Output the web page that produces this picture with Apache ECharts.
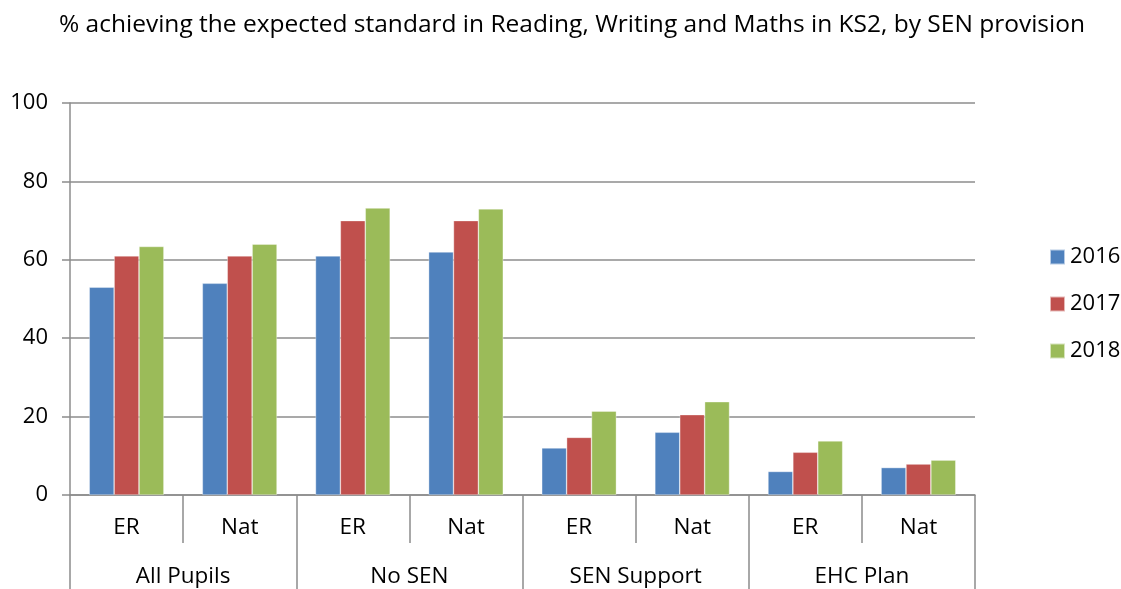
<!DOCTYPE html>
<html>
<head>
<meta charset="utf-8">
<script src="https://cdn.jsdelivr.net/npm/echarts@6/dist/echarts.min.js"></script>
<style>
  html, body { margin: 0; padding: 0; background: #fff; }
  #chart { width: 1121px; height: 589px; }
</style>
</head>
<body>
<div id="chart"></div>
<script>
// data
const subCategories = ["ER", "Nat", "ER", "Nat", "ER", "Nat", "ER", "Nat"];
const groups = ["All Pupils", "No SEN", "SEN Support", "EHC Plan"];
const years = ["2016", "2017", "2018"];
const values2016 = [53, 54, 61, 62, 12, 16, 6, 7];
const values2017 = [61, 61, 70, 70, 14.7, 20.5, 10.9, 7.9];
const values2018 = [63.4, 64, 73.2, 73, 21.4, 23.8, 13.8, 8.9];
const yTicks = [0, 20, 40, 60, 80, 100];

const colors = ["#4F81BD", "#C0504D", "#9BBB59"];
const font = "'Open Sans', Lato, sans-serif";
const gridGray = "#8c8c8c";

const chart = echarts.init(document.getElementById("chart"));

const seriesValues = [values2016, values2017, values2018];

chart.setOption({
  animation: false,
  color: colors,
  textStyle: { fontFamily: font, color: "#000" },
  title: {
    text: "% achieving the expected standard in Reading, Writing and Maths in KS2, by SEN provision",
    left: 567,
    textAlign: "center",
    top: 8,
    textStyle: { fontFamily: font, fontSize: 24.5, fontWeight: "normal", color: "#000" }
  },
  legend: {
    orient: "vertical",
    left: 1044,
    top: 238,
    itemWidth: 15,
    itemHeight: 15,
    itemGap: 19,
    icon: "rect",
    textStyle: { fontFamily: font, fontSize: 22, lineHeight: 28, color: "#000" },
    data: years
  },
  grid: { left: 70, right: 146, top: 103, bottom: 94 },
  xAxis: [
    {
      type: "category",
      data: subCategories,
      position: "bottom",
      axisLine: { lineStyle: { color: gridGray, width: 1.5 } },
      axisTick: { show: true, interval: 0, length: 48, lineStyle: { color: gridGray, width: 1.5 } },
      axisLabel: { interval: 0, margin: 21, fontSize: 22.5, lineHeight: 24, color: "#000", fontFamily: font }
    },
    {
      type: "category",
      data: groups,
      position: "bottom",
      axisLine: { show: false },
      axisTick: { show: true, interval: 0, length: 100, lineStyle: { color: gridGray, width: 1.5 } },
      axisLabel: { interval: 0, margin: 70, fontSize: 22.5, lineHeight: 24, color: "#000", fontFamily: font }
    }
  ],
  yAxis: {
    type: "value",
    min: yTicks[0],
    max: yTicks[yTicks.length - 1],
    interval: 20,
    axisLine: { show: true, lineStyle: { color: gridGray, width: 1.5 } },
    axisTick: { show: true, length: 8, lineStyle: { color: gridGray, width: 1.5 } },
    axisLabel: { margin: 22, fontSize: 22, color: "#000", fontFamily: font },
    splitLine: { lineStyle: { color: gridGray, width: 1.5 } }
  },
  series: years.map((y, i) => ({
    name: y,
    type: "bar",
    xAxisIndex: 0,
    data: seriesValues[i],
    barGap: "0%",
    barCategoryGap: "34%",
    itemStyle: { borderColor: "rgba(255,255,255,0.6)", borderWidth: 0.6 }
  }))
});
</script>
</body>
</html>
